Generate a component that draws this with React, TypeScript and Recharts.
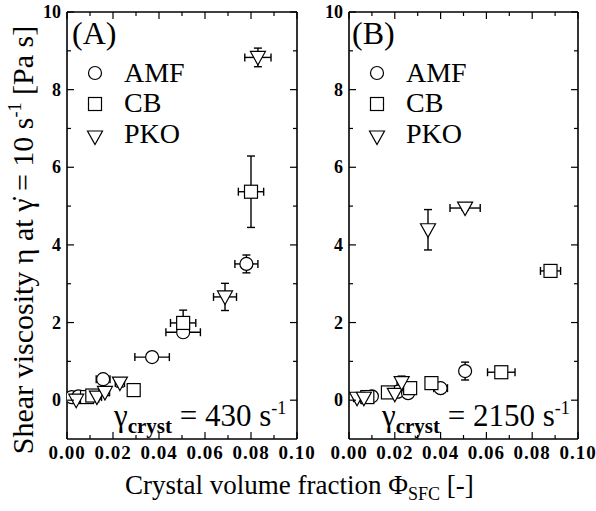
import React from 'react';
import { ScatterChart, Scatter, XAxis, YAxis, ErrorBar } from 'recharts';

type Pt = { x: number; y: number; ex: number; ey: number };

const FONT = '"Liberation Serif", "DejaVu Serif", serif';

const xTicks = [0, 0.01, 0.02, 0.03, 0.04, 0.05, 0.06, 0.07, 0.08, 0.09, 0.1];
const yTicks = [0, 1, 2, 3, 4, 5, 6, 7, 8, 9, 10];

// panel A, gamma_cryst = 430 1/s
const amfA: Pt[] = [
  { x: 0.002, y: 0.08, ex: 0.0015, ey: 0.05 },
  { x: 0.005, y: 0.1, ex: 0.002, ey: 0.05 },
  { x: 0.0157, y: 0.54, ex: 0.003, ey: 0.1 },
  { x: 0.037, y: 1.11, ex: 0.0075, ey: 0.08 },
  { x: 0.0505, y: 1.75, ex: 0.0075, ey: 0.12 },
  { x: 0.078, y: 3.51, ex: 0.005, ey: 0.23 },
];
const cbA: Pt[] = [
  { x: 0.0087, y: 0.08, ex: 0.002, ey: 0.05 },
  { x: 0.011, y: 0.12, ex: 0.002, ey: 0.05 },
  { x: 0.029, y: 0.26, ex: 0.002, ey: 0.1 },
  { x: 0.0505, y: 1.99, ex: 0.0055, ey: 0.33 },
  { x: 0.08, y: 5.37, ex: 0.0055, ey: 0.92 },
];
const pkoA: Pt[] = [
  { x: 0.004, y: 0.0, ex: 0.0015, ey: 0.05 },
  { x: 0.013, y: 0.08, ex: 0.002, ey: 0.05 },
  { x: 0.0165, y: 0.2, ex: 0.002, ey: 0.08 },
  { x: 0.023, y: 0.44, ex: 0.002, ey: 0.1 },
  { x: 0.0687, y: 2.66, ex: 0.005, ey: 0.35 },
  { x: 0.083, y: 8.83, ex: 0.0057, ey: 0.24 },
];

// panel B, gamma_cryst = 2150 1/s
const amfB: Pt[] = [
  { x: 0.01, y: 0.1, ex: 0.002, ey: 0.05 },
  { x: 0.0214, y: 0.22, ex: 0.002, ey: 0.08 },
  { x: 0.0258, y: 0.18, ex: 0.002, ey: 0.08 },
  { x: 0.04, y: 0.31, ex: 0.003, ey: 0.08 },
  { x: 0.0507, y: 0.75, ex: 0.0015, ey: 0.23 },
];
const cbB: Pt[] = [
  { x: 0.008, y: 0.08, ex: 0.002, ey: 0.05 },
  { x: 0.017, y: 0.2, ex: 0.002, ey: 0.1 },
  { x: 0.0267, y: 0.31, ex: 0.002, ey: 0.1 },
  { x: 0.036, y: 0.44, ex: 0.002, ey: 0.1 },
  { x: 0.0665, y: 0.72, ex: 0.006, ey: 0.1 },
  { x: 0.088, y: 3.33, ex: 0.0044, ey: 0.08 },
];
const pkoB: Pt[] = [
  { x: 0.0035, y: 0.05, ex: 0.0015, ey: 0.05 },
  { x: 0.0065, y: 0.05, ex: 0.0015, ey: 0.05 },
  { x: 0.02, y: 0.15, ex: 0.002, ey: 0.08 },
  { x: 0.023, y: 0.45, ex: 0.002, ey: 0.17 },
  { x: 0.0345, y: 4.39, ex: 0.0008, ey: 0.52 },
  { x: 0.0507, y: 4.95, ex: 0.0066, ey: 0.05 },
];

const Circle = (p: any) => (
  <circle cx={p.cx} cy={p.cy} r={6.5} fill="#fff" stroke="#000" strokeWidth={1.2} />
);
const Square = (p: any) => (
  <rect x={p.cx - 6.5} y={p.cy - 6.5} width={13} height={13} fill="#fff" stroke="#000" strokeWidth={1.2} />
);
const TriDown = (p: any) => (
  <polygon
    points={`${p.cx - 7.5},${p.cy - 6} ${p.cx + 7.5},${p.cy - 6} ${p.cx},${p.cy + 7.5}`}
    fill="#fff"
    stroke="#000"
    strokeWidth={1.2}
  />
);
const Nothing = () => <g />;

const isMajorX = (v: number) => Math.round(v * 100) % 2 === 0;
const isMajorY = (v: number) => Math.round(v) % 2 === 0;

const BottomTick = (p: any) => {
  const v = p.payload.value;
  const major = isMajorX(v);
  return (
    <g>
      <line x1={p.x} y1={p.y} x2={p.x} y2={p.y - (major ? 7 : 4)} stroke="#000" strokeWidth={1.2} />
      {major && (
        <text x={p.x} y={p.y + 20} textAnchor="middle" fontFamily={FONT} fontSize={19} fontWeight="bold" letterSpacing={1} fill="#000">
          {v.toFixed(2)}
        </text>
      )}
    </g>
  );
};
const TopTick = (p: any) => {
  const major = isMajorX(p.payload.value);
  return <line x1={p.x} y1={p.y} x2={p.x} y2={p.y + (major ? 7 : 4)} stroke="#000" strokeWidth={1.2} />;
};
const LeftTick = (p: any) => {
  const v = p.payload.value;
  const major = isMajorY(v);
  return (
    <g>
      <line x1={p.x} y1={p.y} x2={p.x + (major ? 7 : 4)} y2={p.y} stroke="#000" strokeWidth={1.2} />
      {major && (
        <text x={p.x - 6} y={p.y + 6} textAnchor="end" fontFamily={FONT} fontSize={18} fontWeight="bold" fill="#000">
          {v}
        </text>
      )}
    </g>
  );
};
const RightTick = (p: any) => {
  const major = isMajorY(p.payload.value);
  return <line x1={p.x} y1={p.y} x2={p.x - (major ? 7 : 4)} y2={p.y} stroke="#000" strokeWidth={1.2} />;
};

function Panel(props: {
  left: number;
  width: number;
  ml: number;
  mr: number;
  amf: Pt[];
  cb: Pt[];
  pko: Pt[];
}) {
  const { left, width, ml, mr, amf, cb, pko } = props;
  const groups: [Pt[], any][] = [
    [amf, Circle],
    [cb, Square],
    [pko, TriDown],
  ];
  return (
    <div style={{ position: 'absolute', left, top: 0 }}>
      <ScatterChart width={width} height={511} margin={{ top: 11, right: mr - 1, bottom: 71, left: ml - 1 }}>
        <XAxis xAxisId="b" type="number" dataKey="x" domain={[0, 0.1]} ticks={xTicks} interval={0}
          tickSize={0} tickMargin={0} tickLine={false} tick={BottomTick} height={1}
          stroke="#000" strokeWidth={1.6} allowDataOverflow />
        <XAxis xAxisId="t" orientation="top" type="number" dataKey="x" domain={[0, 0.1]} ticks={xTicks} interval={0}
          tickSize={0} tickMargin={0} tickLine={false} tick={TopTick} height={1}
          stroke="#000" strokeWidth={1.6} allowDataOverflow />
        <YAxis yAxisId="l" type="number" dataKey="y" domain={[-1, 10]} ticks={yTicks} interval={0}
          tickSize={0} tickMargin={0} tickLine={false} tick={LeftTick} width={1}
          stroke="#000" strokeWidth={1.6} allowDataOverflow />
        <YAxis yAxisId="r" orientation="right" type="number" dataKey="y" domain={[-1, 10]} ticks={yTicks} interval={0}
          tickSize={0} tickMargin={0} tickLine={false} tick={RightTick} width={1}
          stroke="#000" strokeWidth={1.6} allowDataOverflow />
        <Scatter xAxisId="t" yAxisId="r" data={amf} shape={Nothing} isAnimationActive={false} />
        {groups.map(([data, shape], i) => (
          <Scatter key={i} xAxisId="b" yAxisId="l" data={data} shape={shape} isAnimationActive={false}>
            <ErrorBar dataKey="ex" direction="x" width={4} stroke="#000" strokeWidth={1.4} />
            <ErrorBar dataKey="ey" direction="y" width={4} stroke="#000" strokeWidth={1.4} />
          </Scatter>
        ))}
      </ScatterChart>
    </div>
  );
}

function Legend({ x }: { x: number }) {
  const tx = x + 29;
  return (
    <g>
      <Circle cx={x} cy={73} />
      <text x={tx} y={82} fontSize={28}>AMF</text>
      <Square cx={x} cy={104} />
      <text x={tx} y={112} fontSize={28}>CB</text>
      <TriDown cx={x} cy={137} />
      <text x={tx} y={143} fontSize={28}>PKO</text>
    </g>
  );
}

function Rate({ x, value }: { x: number; value: string }) {
  return (
    <text x={x} y={426} fontSize={31}>
      γ
      <tspan fontSize={21} fontWeight="bold" dy={7}>cryst</tspan>
      <tspan dy={-7}> = {value} s</tspan>
      <tspan fontSize={18} dy={-12}>-1</tspan>
    </text>
  );
}

export default function App() {
  return (
    <div style={{ position: 'absolute', left: 0, top: 0, width: 596, height: 511, background: '#fff' }}>
      <Panel left={0} width={325} ml={67} mr={28} amf={amfA} cb={cbA} pko={pkoA} />
      <Panel left={300} width={296} ml={49} mr={18} amf={amfB} cb={cbB} pko={pkoB} />
      <svg width={596} height={511} style={{ position: 'absolute', left: 0, top: 0, pointerEvents: 'none' }}
        fontFamily={FONT} fill="#000">
        <text x={72} y={44} fontSize={32}>(A)</text>
        <text x={352} y={44} fontSize={32}>(B)</text>
        <Legend x={95} />
        <Legend x={377} />
        <Rate x={114} value="430" />
        <Rate x={382} value="2150" />
        <text transform="translate(33,240) rotate(-90)" textAnchor="middle" fontSize={30}>
          Shear viscosity η at γ̇ = 10 s<tspan fontSize={18} dy={-12}>-1</tspan>
          <tspan dy={12}> [Pa s]</tspan>
        </text>
        <text x={125} y={494} fontSize={27}>
          Crystal volume fraction Φ<tspan fontSize={18} dy={6}>SFC</tspan>
          <tspan dy={-6}> [-]</tspan>
        </text>
      </svg>
    </div>
  );
}
